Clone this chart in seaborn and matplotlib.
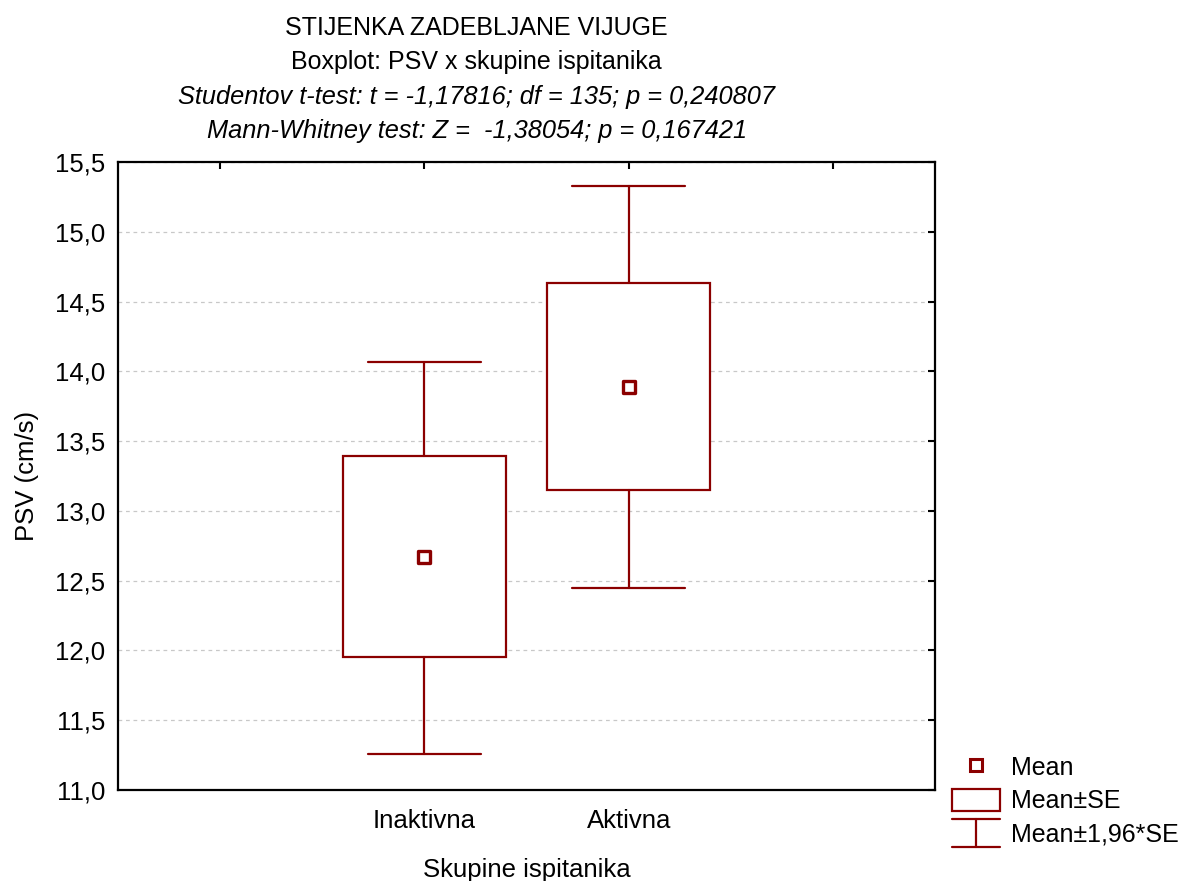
import matplotlib
matplotlib.use('Agg')
import matplotlib.pyplot as plt
import pandas as pd
import seaborn as sns
from matplotlib.legend_handler import HandlerBase
from matplotlib.lines import Line2D
from matplotlib.patches import Rectangle

# values
groups = ['Inaktivna', 'Aktivna']
means = [12.67, 13.89]
se_low = [11.95, 13.15]
se_high = [13.39, 14.63]
ci_low = [11.26, 12.45]
ci_high = [14.07, 15.33]

x_tick_labels = ['', 'Inaktivna', 'Aktivna', '']
y_ticks = [11.0, 11.5, 12.0, 12.5, 13.0, 13.5, 14.0, 14.5, 15.0, 15.5]

title_lines = ['STIJENKA ZADEBLJANE VIJUGE',
               'Boxplot: PSV x skupine ispitanika']
test_lines = ['Studentov t-test: t = -1,17816; df = 135; p = 0,240807',
              'Mann-Whitney test: Z =  -1,38054; p = 0,167421']

RED = '#8b0000'
FS = 18.5

sns.set_theme(style='white', rc={'text.color': 'black',
                                 'axes.labelcolor': 'black',
                                 'xtick.color': 'black',
                                 'ytick.color': 'black'})
plt.rcParams['font.family'] = ['Liberation Sans', 'DejaVu Sans']

df = pd.DataFrame({'group': groups, 'mean': means,
                   'se_low': se_low, 'se_high': se_high,
                   'ci_low': ci_low, 'ci_high': ci_high})
df['pos'] = range(2, 2 + len(df))


class WhiskerKey:
    pass


class WhiskerHandler(HandlerBase):
    '''Draws the I-shaped whisker symbol in the legend.'''

    def create_artists(self, legend, orig_handle, xdescent, ydescent,
                       width, height, fontsize, trans):
        x0, x1 = -xdescent, -xdescent + width
        y0, y1 = -ydescent - 2, -ydescent + height + 2
        xm = (x0 + x1) / 2
        kw = dict(color=RED, lw=1.6, transform=trans)
        return [Line2D([x0, x1], [y0, y0], **kw),
                Line2D([x0, x1], [y1, y1], **kw),
                Line2D([xm, xm], [y0, y1], **kw)]


fig = plt.figure(figsize=(11.86, 8.81), dpi=100)
ax = fig.add_axes([0.0995, 0.1033, 0.6889, 0.7128])

stats = []
for _, row in df.iterrows():
    stats.append({'med': row['mean'], 'q1': row['se_low'],
                  'q3': row['se_high'], 'whislo': row['ci_low'],
                  'whishi': row['ci_high'], 'fliers': [],
                  'label': row['group']})

ax.bxp(stats, positions=list(df['pos']), widths=0.8, capwidths=0.55,
       patch_artist=True, manage_ticks=False, showfliers=False,
       boxprops=dict(facecolor='white', edgecolor=RED, linewidth=1.6),
       whiskerprops=dict(color=RED, linewidth=1.6),
       capprops=dict(color=RED, linewidth=1.6),
       medianprops=dict(linewidth=0), zorder=3)

sns.scatterplot(data=df, x='pos', y='mean', marker='s', s=70,
                facecolor='white', edgecolor=RED, linewidth=2.4,
                zorder=5, ax=ax, legend=False)

ax.set_xlim(0.5, 4.5)
ax.set_ylim(11.0, 15.5)
ax.set_xticks(range(1, 1 + len(x_tick_labels)))
ax.set_xticklabels(x_tick_labels)
ax.set_yticks(y_ticks)
ax.set_yticklabels([f'{v:.1f}'.replace('.', ',') for v in y_ticks])
ax.tick_params(direction='in', length=5, width=1.5, labelsize=FS,
               top=True, right=True, pad=9, colors='black')
ax.tick_params(axis='x', pad=14)
ax.yaxis.grid(True, linestyle=(0, (3, 3)), color='#c8c8c8', linewidth=0.9)
ax.set_axisbelow(True)
for sp in ax.spines.values():
    sp.set_color('black')
    sp.set_linewidth(1.6)

ax.set_xlabel('Skupine ispitanika', fontsize=FS, labelpad=18)
ax.set_ylabel('PSV (cm/s)', fontsize=FS, labelpad=12)

fig.text(0.402, 0.968, title_lines[0], ha='center', va='center', fontsize=18)
fig.text(0.402, 0.930, title_lines[1], ha='center', va='center', fontsize=18)
fig.text(0.402, 0.890, test_lines[0], ha='center', va='center',
         fontsize=18.3, style='italic')
fig.text(0.402, 0.851, test_lines[1], ha='center', va='center',
         fontsize=18.3, style='italic')

handles = [Line2D([], [], linestyle='none', marker='s', markersize=8,
                  markerfacecolor='white', markeredgecolor=RED,
                  markeredgewidth=2.2),
           Rectangle((0, 0), 1, 1, facecolor='white', edgecolor=RED,
                     linewidth=1.6),
           WhiskerKey()]
labels = ['Mean', 'Mean±SE', 'Mean±1,96*SE']
fig.legend(handles, labels, loc='upper left',
           bbox_to_anchor=(0.7946, 0.1537), frameon=False, fontsize=18,
           handlelength=1.9, handleheight=1.0, labelspacing=0.33,
           handletextpad=0.45, borderaxespad=0,
           handler_map={WhiskerKey: WhiskerHandler()})

fig.savefig('out.png', dpi=100)
